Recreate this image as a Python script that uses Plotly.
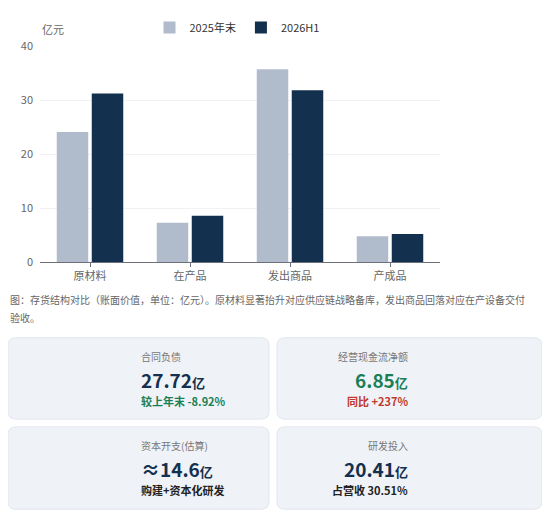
import plotly.graph_objects as go

categories = ["原材料", "在产品", "发出商品", "产成品"]
s2025 = [24.1, 7.3, 35.7, 4.8]
s2026 = [31.2, 8.6, 31.8, 5.2]
y_ticks = [0, 10, 20, 30, 40]

OFF = 8
W, H = 550 - OFF, 524 - OFF
FONT = "Noto Sans CJK SC"
def px(x): return (x - OFF) / W
def py(y): return 1 - (y - OFF) / H

fig = go.Figure()
fig.add_bar(name="2025年末", x=categories, y=s2025, marker=dict(color="#b0bccb", line=dict(width=0)))
fig.add_bar(name="2026H1", x=categories, y=s2026, marker=dict(color="#14304f", line=dict(width=0)))

def rrect(x0, y0, x1, y1, r=8):
    X = lambda v: px(v); Y = lambda v: py(v)
    return (f"M {X(x0+r)},{Y(y0)} L {X(x1-r)},{Y(y0)} Q {X(x1)},{Y(y0)} {X(x1)},{Y(y0+r)} "
            f"L {X(x1)},{Y(y1-r)} Q {X(x1)},{Y(y1)} {X(x1-r)},{Y(y1)} L {X(x0+r)},{Y(y1)} "
            f"Q {X(x0)},{Y(y1)} {X(x0)},{Y(y1-r)} L {X(x0)},{Y(y0+r)} Q {X(x0)},{Y(y0)} {X(x0+r)},{Y(y0)} Z")

cards = [
    (8, 339, 269, 423, "合同负债", "27.72", "#14304f", "较上年末 -8.92%", "#1a7f55"),
    (277, 339, 542, 423, "经营现金流净额", "6.85", "#1a7f55", "同比 +237%", "#c0392b"),
    (8, 431, 269, 516, "资本开支(估算)", "≈14.6", "#14304f", "购建+资本化研发", "#222222"),
    (277, 431, 542, 516, "研发投入", "20.41", "#14304f", "占营收 30.51%", "#222222"),
]
shapes = []
ann = []
for x0, y0, x1, y1, t, v, vc, s, sc in cards:
    shapes.append(dict(type="path", path=rrect(x0, y0, x1, y1), xref="paper", yref="paper",
                       fillcolor="#eff2f7", line=dict(color="#e1e6ee", width=1), layer="below"))
    cx = px((x0 + x1) / 2)
    ann.append(dict(x=cx, y=py(y0 + 19), yanchor="middle", text=t, showarrow=False, xref="paper", yref="paper",
                    font=dict(size=10, color="#777", family=FONT)))
    ann.append(dict(x=cx, y=py(y0 + 43), yanchor="middle", text=f"<b>{v}</b><b><span style='font-size:13px'>亿</span></b>",
                    showarrow=False, xref="paper", yref="paper", font=dict(size=19, color=vc, family=FONT)))
    ann.append(dict(x=cx, y=py(y0 + 65), yanchor="middle", text=f"<b>{s}</b>", showarrow=False, xref="paper", yref="paper",
                    font=dict(size=11, color=sc, family=FONT)))

ann.append(dict(x=px(8), y=py(300), xanchor="left", yanchor="middle", text="图：存货结构对比（账面价值，单位：亿元）。原材料显著抬升对应供应链战略备库，发出商品回落对应在产设备交付",
                showarrow=False, xref="paper", yref="paper", font=dict(size=10, color="#666", family=FONT)))
ann.append(dict(x=px(8), y=py(318), xanchor="left", yanchor="middle", text="验收。",
                showarrow=False, xref="paper", yref="paper", font=dict(size=10, color="#666", family=FONT)))
ann.append(dict(x=px(40), y=py(20), yanchor="middle", text="亿元", showarrow=False, xref="paper", yref="paper",
                font=dict(size=11, color="#666", family=FONT)))

fig.update_layout(
    width=W, height=H, margin=dict(l=0, r=0, t=0, b=0),
    paper_bgcolor="white", plot_bgcolor="white",
    font=dict(family=FONT, size=11, color="#666"),
    barmode="group", bargap=0.3, bargroupgap=0.1,
    legend=dict(orientation="h", x=px(237), xanchor="center", y=py(4), yanchor="top",
                font=dict(size=11, color="#333"), itemwidth=30),
    xaxis=dict(domain=[px(40), px(440)], showline=True, linecolor="#6e7079", ticks="outside",
               tickcolor="#6e7079", ticklen=4, showgrid=False,
               tickfont=dict(size=11, color="#666")),
    yaxis=dict(domain=[py(261), py(38)], range=[0, 40], tickvals=y_ticks, gridcolor="#f0f2f5",
               zeroline=False, tickfont=dict(size=11, color="#666"), ticklabelstandoff=6),
    shapes=shapes, annotations=ann,
)
fig.write_html("out.html")
